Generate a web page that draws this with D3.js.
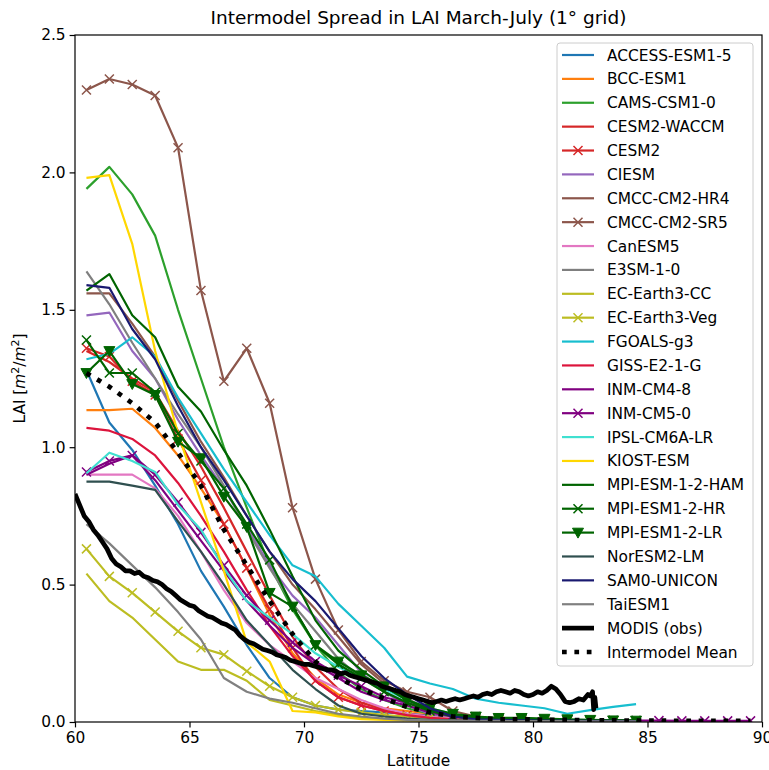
<!DOCTYPE html>
<html>
<head>
<meta charset="utf-8">
<script src="https://cdn.jsdelivr.net/npm/d3@7"></script>
<style>
  html, body { margin: 0; padding: 0; background: #fff; overflow: hidden; }
  svg { display: block; font-family: "DejaVu Sans", sans-serif; }
</style>
</head>
<body>
<svg id="chart" width="769" height="770"></svg>
<script>
// grid-cell latitudes for the models (1 degree grid)
const lats = [60.5, 61.5, 62.5, 63.5, 64.5, 65.5, 66.5, 67.5, 68.5, 69.5,
  70.5, 71.5, 72.5, 73.5, 74.5, 75.5, 76.5, 77.5, 78.5, 79.5,
  80.5, 81.5, 82.5, 83.5, 84.5, 85.5, 86.5, 87.5, 88.5, 89.5];

const modelNames = ["ACCESS-ESM1-5", "BCC-ESM1", "CAMS-CSM1-0", "CESM2-WACCM", "CESM2",
  "CIESM", "CMCC-CM2-HR4", "CMCC-CM2-SR5", "CanESM5", "E3SM-1-0", "EC-Earth3-CC",
  "EC-Earth3-Veg", "FGOALS-g3", "GISS-E2-1-G", "INM-CM4-8", "INM-CM5-0", "IPSL-CM6A-LR",
  "KIOST-ESM", "MPI-ESM-1-2-HAM", "MPI-ESM1-2-HR", "MPI-ESM1-2-LR", "NorESM2-LM",
  "SAM0-UNICON", "TaiESM1"];

const modelColors = ["#1f77b4", "#ff7f0e", "#2ca02c", "#d62728", "#d62728",
  "#9467bd", "#8c564b", "#8c564b", "#e377c2", "#7f7f7f", "#bcbd22",
  "#bcbd22", "#17becf", "#dc143c", "#800080", "#800080", "#40e0d0",
  "#ffd700", "#006400", "#006400", "#006400", "#2f4f4f",
  "#191970", "#808080"];

const modelMarkers = ["", "", "", "", "x", "", "", "x", "", "", "", "x", "", "", "", "x", "",
  "", "", "x", "v", "", "", ""];

// LAI per model, one value per latitude above (null = no data)
const accessEsm = [1.28, 1.09, 0.99, 0.86, 0.72, 0.55, 0.42, 0.28, 0.16, 0.09, 0.06, 0.045, 0.04, 0.035, 0.03, 0.025, 0.015, 0.01, 0.008, 0.006, 0.005, 0.005, 0.004, 0.004, 0.003, null, null, null, null, null];
const bccEsm = [1.135, 1.135, 1.14, 1.07, 0.97, 0.85, 0.72, 0.56, 0.39, 0.25, 0.16, 0.10, 0.07, 0.05, 0.04, 0.03, 0.02, 0.012, 0.008, 0.006, 0.005, 0.004, 0.004, 0.003, 0.003, null, null, null, null, null];
const camsCsm = [1.94, 2.02, 1.92, 1.77, 1.50, 1.25, 1.00, 0.78, 0.57, 0.41, 0.28, 0.18, 0.12, 0.08, 0.05, 0.03, 0.018, 0.01, 0.008, 0.006, 0.005, 0.005, 0.004, 0.004, 0.003, null, null, null, null, null];
const cesm2Waccm = [1.35, 1.31, 1.25, 1.20, 1.06, 0.93, 0.78, 0.62, 0.46, 0.31, 0.20, 0.12, 0.07, 0.045, 0.03, 0.02, 0.012, 0.008, 0.006, 0.005, 0.004, 0.004, 0.003, 0.003, 0.003, null, null, null, null, null];
const cesm2 = [1.36, 1.33, 1.24, 1.19, 1.03, 0.88, 0.72, 0.56, 0.41, 0.27, 0.15, 0.09, 0.06, 0.04, 0.025, 0.018, 0.01, 0.007, 0.006, 0.005, 0.004, 0.004, 0.003, 0.003, 0.003, null, null, null, null, null];
const ciesm = [1.48, 1.49, 1.35, 1.25, 1.10, 0.97, 0.85, 0.71, 0.57, 0.46, 0.38, 0.28, 0.18, 0.11, 0.06, 0.03, 0.018, 0.01, 0.008, 0.006, 0.005, 0.005, 0.004, 0.004, 0.003, null, null, null, null, null];
const cmccHr4 = [1.56, 1.56, 1.45, 1.33, 1.17, 1.02, 0.89, 0.75, 0.62, 0.50, 0.41, 0.31, 0.21, 0.14, 0.085, 0.045, 0.02, 0.012, 0.008, 0.006, 0.005, 0.005, 0.004, 0.004, 0.003, null, null, null, null, null];
const cmccSr5 = [2.30, 2.34, 2.32, 2.28, 2.09, 1.57, 1.24, 1.36, 1.16, 0.78, 0.52, 0.335, 0.22, 0.15, 0.11, 0.09, 0.04, 0.02, 0.01, 0.008, 0.006, 0.005, 0.005, 0.004, 0.004, null, null, null, null, null];
const canEsm5 = [0.90, 0.90, 0.90, 0.85, 0.75, 0.62, 0.48, 0.36, 0.28, 0.22, 0.16, 0.12, 0.08, 0.05, 0.03, 0.02, 0.012, 0.008, 0.006, 0.005, 0.004, 0.004, 0.003, 0.003, 0.003, null, null, null, null, null];
const e3sm = [1.64, 1.52, 1.38, 1.25, 1.12, 1.00, 0.86, 0.70, 0.56, 0.43, 0.33, 0.23, 0.16, 0.11, 0.07, 0.04, 0.02, 0.01, 0.008, 0.006, 0.005, 0.004, 0.004, 0.003, 0.003, null, null, null, null, null];
const ecEarthCc = [0.54, 0.44, 0.38, 0.30, 0.22, 0.19, 0.19, 0.15, 0.08, 0.06, 0.04, 0.025, 0.015, 0.01, 0.008, 0.006, 0.005, 0.004, 0.004, 0.003, 0.003, 0.003, 0.002, 0.002, 0.002, null, null, null, null, null];
const ecEarthVeg = [0.63, 0.53, 0.47, 0.40, 0.33, 0.27, 0.245, 0.185, 0.13, 0.09, 0.06, 0.045, 0.035, 0.025, 0.02, 0.015, 0.01, 0.008, 0.006, 0.005, 0.004, 0.004, 0.003, 0.003, 0.003, null, null, null, null, null];
const fgoals = [1.32, 1.34, 1.40, 1.33, 1.18, 1.05, 0.92, 0.80, 0.68, 0.57, 0.53, 0.43, 0.35, 0.27, 0.165, 0.14, 0.12, 0.085, 0.07, 0.06, 0.05, 0.03, 0.043, 0.055, 0.065, null, null, null, null, null];
const giss = [1.07, 1.06, 1.03, 0.97, 0.87, 0.75, 0.62, 0.48, 0.35, 0.24, 0.15, 0.09, 0.06, 0.04, 0.025, 0.015, 0.01, 0.007, 0.005, 0.004, 0.004, 0.003, 0.003, 0.003, 0.002, null, null, null, null, null];
const inmCm48 = [0.90, 0.94, 0.97, 0.88, 0.77, 0.66, 0.55, 0.44, 0.35, 0.27, 0.21, 0.16, 0.11, 0.08, 0.06, 0.035, 0.02, 0.012, 0.008, 0.006, 0.005, 0.005, 0.004, 0.004, 0.003, null, null, null, null, null];
const inmCm50 = [0.91, 0.95, 0.97, 0.90, 0.80, 0.69, 0.57, 0.46, 0.37, 0.29, 0.22, 0.17, 0.13, 0.09, 0.07, 0.045, 0.025, 0.015, 0.01, 0.008, 0.007, 0.006, 0.006, 0.005, 0.005, 0.005, 0.004, 0.004, 0.004, 0.004];
const ipsl = [0.905, 0.98, 0.95, 0.91, 0.79, 0.70, 0.56, 0.44, 0.38, 0.32, 0.25, 0.20, 0.16, 0.12, 0.08, 0.05, 0.03, 0.015, 0.01, 0.008, 0.006, 0.005, 0.005, 0.004, 0.004, null, null, null, null, null];
const kiost = [1.98, 1.99, 1.74, 1.35, 1.05, 0.80, 0.55, 0.29, 0.22, 0.04, 0.035, 0.02, 0.01, 0.008, 0.006, 0.005, 0.004, 0.004, 0.003, 0.003, 0.003, 0.002, 0.002, 0.002, 0.002, null, null, null, null, null];
const mpiHam = [1.57, 1.63, 1.48, 1.40, 1.22, 1.13, 0.99, 0.86, 0.70, 0.53, 0.37, 0.26, 0.19, 0.13, 0.08, 0.045, 0.025, 0.015, 0.01, 0.008, 0.007, 0.006, 0.005, 0.005, 0.004, null, null, null, null, null];
const mpiHr = [1.39, 1.27, 1.27, 1.20, 1.05, 0.95, 0.85, 0.72, 0.59, 0.42, 0.28, 0.21, 0.16, 0.11, 0.07, 0.04, 0.02, 0.012, 0.01, 0.01, 0.008, 0.008, 0.006, 0.005, 0.005, null, null, null, null, null];
const mpiLr = [1.27, 1.35, 1.23, 1.19, 1.02, 0.96, 0.82, 0.71, 0.47, 0.42, 0.28, 0.22, 0.17, 0.13, 0.08, 0.05, 0.03, 0.02, 0.015, 0.015, 0.012, 0.01, 0.008, 0.006, 0.005, null, null, null, null, null];
const norEsm = [0.875, 0.875, 0.86, 0.845, 0.73, 0.62, 0.50, 0.37, 0.28, 0.19, 0.12, 0.06, 0.03, 0.02, 0.012, 0.008, 0.006, 0.005, 0.004, 0.004, 0.003, 0.003, 0.003, 0.002, 0.002, null, null, null, null, null];
const sam0 = [1.59, 1.58, 1.43, 1.32, 1.15, 1.00, 0.88, 0.75, 0.62, 0.52, 0.44, 0.34, 0.24, 0.16, 0.10, 0.05, 0.02, 0.01, 0.008, 0.006, 0.005, 0.005, 0.004, 0.004, 0.003, null, null, null, null, null];
const taiEsm = [0.72, 0.65, 0.57, 0.49, 0.40, 0.30, 0.16, 0.11, 0.085, 0.07, 0.05, 0.03, 0.02, 0.012, 0.008, 0.006, 0.005, 0.004, 0.004, 0.003, 0.003, 0.003, 0.002, 0.002, 0.002, null, null, null, null, null];

const modelValues = [accessEsm, bccEsm, camsCsm, cesm2Waccm, cesm2, ciesm, cmccHr4, cmccSr5,
  canEsm5, e3sm, ecEarthCc, ecEarthVeg, fgoals, giss, inmCm48, inmCm50, ipsl, kiost,
  mpiHam, mpiHr, mpiLr, norEsm, sam0, taiEsm];

const meanValues = [1.27, 1.22, 1.16, 1.09, 0.98, 0.86, 0.70, 0.57, 0.44, 0.32, 0.22, 0.16, 0.12, 0.085, 0.055, 0.035, 0.02, 0.015, 0.01, 0.01, 0.008, 0.008, 0.006, 0.006, 0.005, 0.005, 0.004, 0.004, 0.004, 0.004];

// MODIS observations (finer grid)
const modisLat = [60.0, 60.2, 60.4, 60.6, 60.8, 61.0, 61.2, 61.4, 61.6, 61.8, 62.0, 62.2, 62.4, 62.6, 62.8,
  63.0, 63.2, 63.4, 63.6, 63.8, 64.0, 64.2, 64.4, 64.6, 64.8, 65.0, 65.2, 65.4, 65.6, 65.8,
  66.0, 66.2, 66.4, 66.6, 66.8, 67.0, 67.2, 67.4, 67.6, 67.8, 68.0, 68.2, 68.4, 68.6, 68.8,
  69.0, 69.2, 69.4, 69.6, 69.8, 70.0, 70.2, 70.4, 70.6, 70.8, 71.0, 71.2, 71.4, 71.6, 71.8,
  72.0, 72.2, 72.4, 72.6, 72.8, 73.0, 73.2, 73.4, 73.6, 73.8, 74.0, 74.2, 74.4, 74.6, 74.8,
  75.0, 75.2, 75.4, 75.6, 75.8, 76.0, 76.2, 76.4, 76.6, 76.8, 77.0, 77.2, 77.4, 77.6, 77.8,
  78.0, 78.2, 78.4, 78.6, 78.8, 79.0, 79.2, 79.4, 79.6, 79.8, 80.0, 80.2, 80.4, 80.6, 80.8,
  81.0, 81.2, 81.4, 81.6, 81.8, 82.0, 82.2, 82.4, 82.5, 82.6, 82.65, 82.7, 82.75];
const modisLai = [0.83, 0.79, 0.75, 0.73, 0.70, 0.68, 0.655, 0.63, 0.595, 0.575, 0.565, 0.55, 0.55, 0.54, 0.545,
  0.53, 0.525, 0.515, 0.51, 0.50, 0.485, 0.475, 0.46, 0.445, 0.435, 0.425, 0.42, 0.405, 0.395, 0.385,
  0.38, 0.37, 0.36, 0.355, 0.345, 0.335, 0.315, 0.30, 0.29, 0.285, 0.275, 0.265, 0.26, 0.255, 0.245,
  0.24, 0.235, 0.225, 0.22, 0.215, 0.21, 0.21, 0.205, 0.20, 0.195, 0.19, 0.19, 0.185, 0.175, 0.18,
  0.17, 0.165, 0.16, 0.155, 0.15, 0.145, 0.14, 0.13, 0.125, 0.12, 0.115, 0.11, 0.10, 0.095, 0.09,
  0.085, 0.08, 0.075, 0.07, 0.075, 0.08, 0.075, 0.08, 0.085, 0.08, 0.085, 0.09, 0.095, 0.09, 0.10,
  0.105, 0.10, 0.11, 0.115, 0.11, 0.105, 0.115, 0.11, 0.10, 0.095, 0.10, 0.11, 0.105, 0.115, 0.13,
  0.12, 0.10, 0.075, 0.07, 0.075, 0.085, 0.08, 0.10, 0.095, 0.11, 0.045, 0.09, 0.05];

const xTicks = [60, 65, 70, 75, 80, 85, 90];
const yTicks = [0.0, 0.5, 1.0, 1.5, 2.0, 2.5];

const svg = d3.select("#chart");
const width = 769, height = 770;
const margin = { top: 35, right: 7, bottom: 48, left: 75 };
const innerWidth = width - margin.left - margin.right;
const innerHeight = height - margin.top - margin.bottom;
const fontSize = "15.4px";

const g = svg.append("g").attr("transform", `translate(${margin.left},${margin.top})`);

const x = d3.scaleLinear().domain([60, 90]).range([0, innerWidth]);
const y = d3.scaleLinear().domain([0, 2.5]).range([innerHeight, 0]);

g.append("clipPath").attr("id", "clip")
  .append("rect").attr("width", innerWidth).attr("height", innerHeight);

const plot = g.append("g").attr("clip-path", "url(#clip)");

const line = d3.line()
  .defined(d => d.v != null)
  .x(d => x(d.lat))
  .y(d => y(d.v));

// draw a marker at (cx, cy)
function drawMarker(sel, type, cx, cy, color) {
  if (type === "x") {
    const s = 4.5;
    sel.append("path")
      .attr("d", `M${cx - s},${cy - s}L${cx + s},${cy + s}M${cx - s},${cy + s}L${cx + s},${cy - s}`)
      .attr("stroke", color)
      .attr("stroke-width", 1.5)
      .attr("fill", "none");
  } else if (type === "v") {
    const s = 5.5;
    sel.append("path")
      .attr("d", `M${cx - s},${cy - s * 0.8}L${cx + s},${cy - s * 0.8}L${cx},${cy + s}Z`)
      .attr("fill", color)
      .attr("stroke", color)
      .attr("stroke-width", 1);
  }
}

modelNames.forEach((name, i) => {
  const pts = lats.map((lat, j) => ({ lat: lat, v: modelValues[i][j] }));
  plot.append("path")
    .datum(pts)
    .attr("d", line)
    .attr("fill", "none")
    .attr("stroke", modelColors[i])
    .attr("stroke-width", 2.2)
    .attr("stroke-linejoin", "round");
  if (modelMarkers[i]) {
    const mg = plot.append("g");
    pts.filter(d => d.v != null).forEach(d => drawMarker(mg, modelMarkers[i], x(d.lat), y(d.v), modelColors[i]));
  }
});

// MODIS
plot.append("path")
  .datum(modisLat.map((lat, j) => ({ lat: lat, v: modisLai[j] })))
  .attr("d", line)
  .attr("fill", "none")
  .attr("stroke", "black")
  .attr("stroke-width", 4.7)
  .attr("stroke-linejoin", "round");

// intermodel mean
plot.append("path")
  .datum(lats.map((lat, j) => ({ lat: lat, v: meanValues[j] })))
  .attr("d", line)
  .attr("fill", "none")
  .attr("stroke", "black")
  .attr("stroke-width", 4.7)
  .attr("stroke-dasharray", "4.7,7.7");

// axes
const xAxis = g.append("g")
  .attr("transform", `translate(0,${innerHeight})`)
  .call(d3.axisBottom(x).tickValues(xTicks).tickFormat(d3.format("d")).tickSize(5.4).tickPadding(5));
const yAxis = g.append("g")
  .call(d3.axisLeft(y).tickValues(yTicks).tickFormat(d3.format(".1f")).tickSize(5.4).tickPadding(4));

[xAxis, yAxis].forEach(ax => {
  ax.attr("font-family", null).attr("font-size", null);
  ax.select(".domain").remove();
  ax.selectAll("line").attr("stroke", "black").attr("stroke-width", 1.2);
  ax.selectAll("text")
    .style("font-size", fontSize)
    .style("fill", "black");
});

// spines
g.append("rect")
  .attr("width", innerWidth)
  .attr("height", innerHeight)
  .attr("fill", "none")
  .attr("stroke", "black")
  .attr("stroke-width", 1.2);

// title
svg.append("text")
  .attr("x", margin.left + innerWidth / 2)
  .attr("y", 24)
  .attr("text-anchor", "middle")
  .style("font-size", "18.5px")
  .text("Intermodel Spread in LAI March-July (1° grid)");

// axis labels
svg.append("text")
  .attr("x", margin.left + innerWidth / 2)
  .attr("y", 766)
  .attr("text-anchor", "middle")
  .style("font-size", fontSize)
  .text("Latitude");

const yl = svg.append("text")
  .attr("transform", `translate(25,${margin.top + innerHeight / 2}) rotate(-90)`)
  .attr("text-anchor", "middle")
  .style("font-size", fontSize);
yl.append("tspan").text("LAI [");
yl.append("tspan").style("font-style", "italic").text("m");
yl.append("tspan").attr("dy", -6).style("font-size", "11px").text("2");
yl.append("tspan").attr("dy", 6).text("/");
yl.append("tspan").style("font-style", "italic").text("m");
yl.append("tspan").attr("dy", -6).style("font-size", "11px").text("2");
yl.append("tspan").attr("dy", 6).text("]");

// legend
const legendItems = modelNames.map((n, i) => ({ name: n, color: modelColors[i], marker: modelMarkers[i], width: 2.2, dash: null }));
legendItems.push({ name: "MODIS (obs)", color: "black", marker: "", width: 4.7, dash: null });
legendItems.push({ name: "Intermodel Mean", color: "black", marker: "", width: 4.7, dash: "4.7,7.7" });

const legend = svg.append("g").attr("transform", "translate(557,43)");
legend.append("rect")
  .attr("width", 196)
  .attr("height", 623)
  .attr("rx", 3)
  .attr("fill", "white")
  .attr("fill-opacity", 0.8)
  .attr("stroke", "#cccccc")
  .attr("stroke-width", 1);

legendItems.forEach((d, i) => {
  const cy = 12 + i * 23.88;
  legend.append("line")
    .attr("x1", 5).attr("x2", 37)
    .attr("y1", cy).attr("y2", cy)
    .attr("stroke", d.color)
    .attr("stroke-width", d.width)
    .attr("stroke-dasharray", d.dash);
  if (d.marker) drawMarker(legend, d.marker, 21, cy, d.color);
  legend.append("text")
    .attr("x", 50)
    .attr("y", cy + 5.5)
    .style("font-size", fontSize)
    .text(d.name);
});
</script>
</body>
</html>
